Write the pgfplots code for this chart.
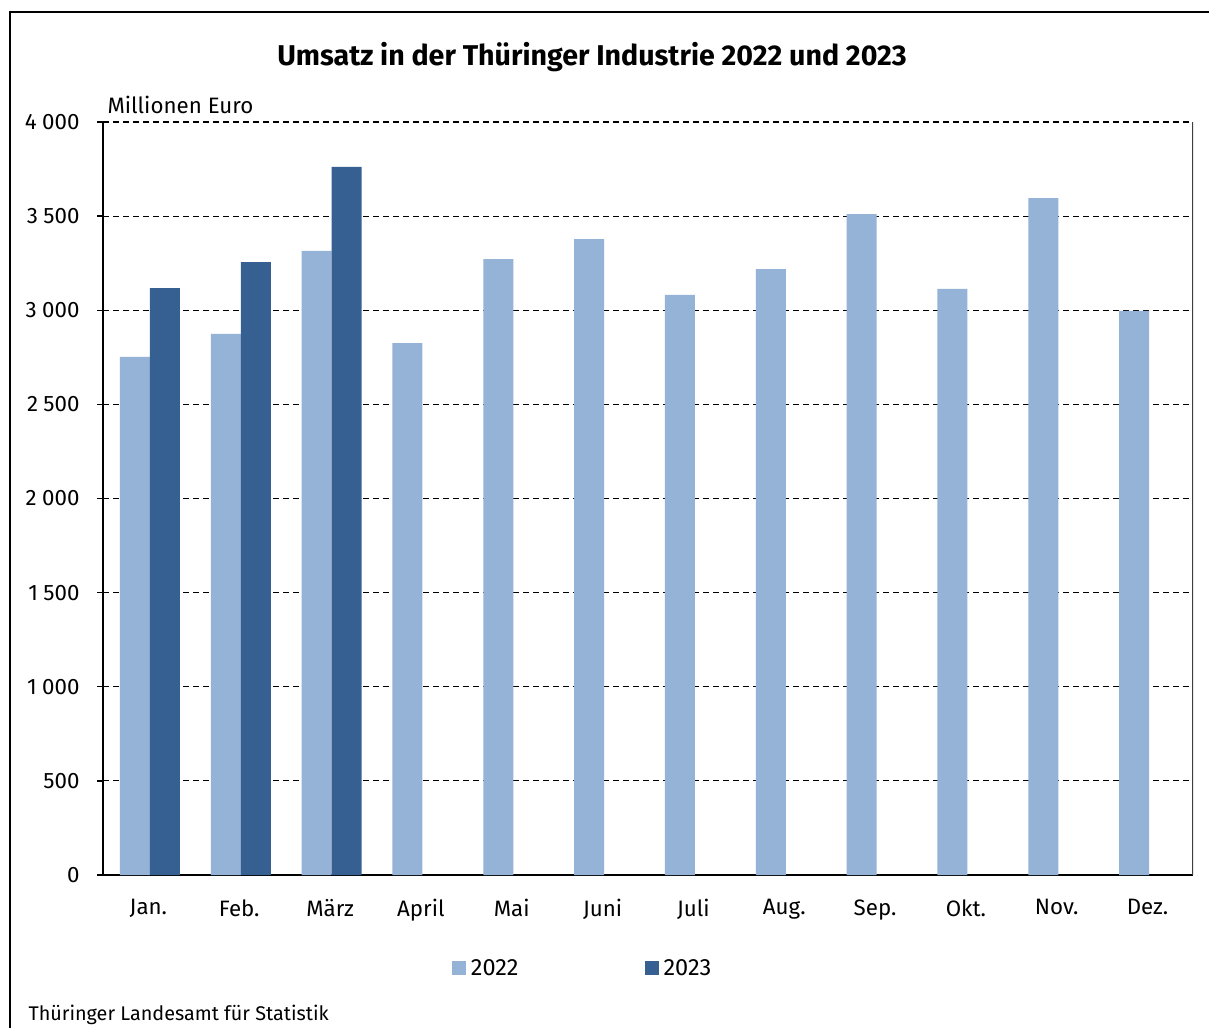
\documentclass[border=0pt]{standalone}
\usepackage{pgfplots}
\pgfplotsset{compat=1.18}
\usepackage{fontspec}
\setmainfont{Fira Sans}
\definecolor{c22}{HTML}{95B3D7}
\definecolor{c23}{HTML}{366092}
\newcommand{\ts}{\hspace{0.24em}}
\begin{document}
\begin{tikzpicture}[x=1pt,y=1pt]
\useasboundingbox (0,0) rectangle (1209,1028);
\fill[white] (0,0) rectangle (1209,1028);
\draw[line width=2pt] (10,0) -- (10,1016) -- (1209,1016);
\node[font=\fontsize{28.6}{33}\selectfont\bfseries] at (592,971) {Umsatz in der Thüringer Industrie 2022 und 2023};
\node[anchor=base west,font=\fontsize{22.3}{26}\selectfont] at (104,914) {Millionen Euro};
\node[anchor=base west,font=\fontsize{19.8}{23}\selectfont] at (25,8) {Thüringer Landesamt für Statistik};
\begin{axis}[
  at={(103pt,153pt)}, anchor=south west,
  scale only axis, width=1090pt, height=753pt,
  xmin=-0.5, xmax=11.5, ymin=0, ymax=4000,
  ybar=0pt, bar width=30pt,
  axis x line*=bottom, axis y line*=left,
  axis line style={-, line width=1.6pt, black},
  xtick={0,...,11},
  xticklabels={Jan.,Feb.,März,April,Mai,Juni,Juli,Aug.,Sep.,Okt.,Nov.,Dez.},
  xtick style={draw=none},
  minor xtick={-0.5,0.5,...,11.5},
  minor tick length=7pt,
  minor x tick style={line width=1.4pt, black},
  major tick length=6pt,
  ytick={0,500,...,4000},
  yticklabels={0,500,1\ts000,1\ts500,2\ts000,2\ts500,3\ts000,3\ts500,4\ts000},
  ytick style={line width=1.4pt, black},
  tick align=outside,
  ymajorgrids,
  major grid style={black, line width=1.2pt, dash pattern=on 6pt off 4pt},
  ticklabel style={font=\fontsize{22.3}{26}\selectfont},
  yticklabel style={xshift=-14pt},
  xticklabel style={yshift=-15pt},
  legend style={at={(0.440,-0.1235)}, anchor=center, draw=none, fill=none,
    legend columns=2, font=\fontsize{23.5}{27}\selectfont,
    /tikz/every even column/.append style={column sep=124pt},
    legend cell align=left},
  legend image code/.code={\fill[#1] (0pt,-7pt) rectangle (14pt,7pt); \path (17pt,0pt);},
]
\addplot[fill=c22, draw=none, bar shift=-13.5pt] coordinates {(0,2752) (1,2874) (2,3315) (3,2826) (4,3272) (5,3378) (6,3081) (7,3219) (8,3511) (9,3113) (10,3596) (11,2996)};
\addlegendentry{2022}
\addplot[fill=c23, draw=none, bar shift=16.5pt] coordinates {(0,3118) (1,3256) (2,3761)};
\addlegendentry{2023}
\draw[line width=1.6pt, black!75] (rel axis cs:1,0) -- (rel axis cs:1,1);
\end{axis}
\end{tikzpicture}
\end{document}
